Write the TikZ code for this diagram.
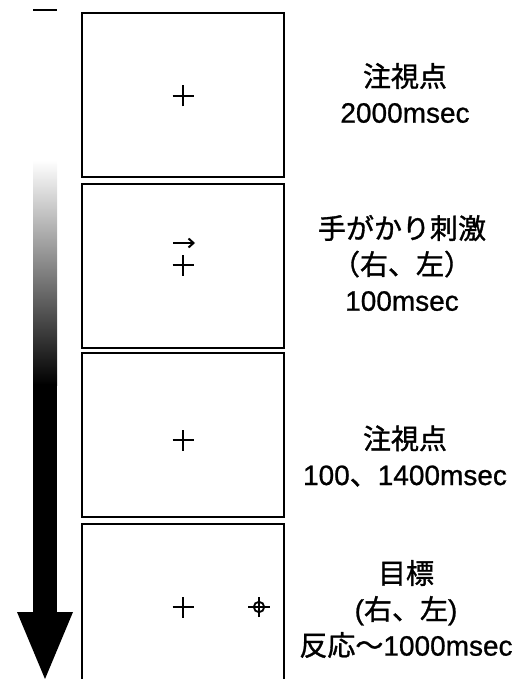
\documentclass[tikz,border=0pt]{standalone}
\usepackage{fontspec}
\setmainfont[FakeBold=0.8]{Liberation Sans}
\newfontfamily\jp[FakeBold=1.2]{Noto Sans CJK JP}
\usetikzlibrary{arrows.meta}
\tikzset{
  screen/.style={draw=black, line width=2pt, minimum width=202pt, minimum height=164pt, inner sep=0pt, outer sep=0pt},
  fixcross/.style={line width=2pt},
  label/.style={align=center, font=\fontsize{28}{36}\selectfont, inner sep=0pt},
}
\begin{document}
\begin{tikzpicture}[x=1pt,y=-1pt]
\useasboundingbox (0,0) rectangle (523,679);
% time arrow
\shade[top color=white, bottom color=black] (33,160) rectangle (57,385);
\fill[black] (33,384) rectangle (57,613);
\fill[black] (17,612) -- (73,612) -- (45,679) -- cycle;
\draw[line width=2pt] (33,10) -- (57,10);
% screens
\node[screen] (s1) at (183,95) {};
\node[screen] (s2) at (183,265.5) {};
\node[screen] (s3) at (183,435) {};
\coordinate (s4a) at (82,690);
\coordinate (s4b) at (82,524);
\coordinate (s4c) at (284,524);
\coordinate (s4d) at (284,690);
\draw[line width=2pt] (s4a) -- (s4b) -- (s4c) -- (s4d);
% fixation crosses
\coordinate (f1) at (183,96);
\coordinate (f2) at (183,265);
\coordinate (f3) at (183,440);
\coordinate (f4) at (183,607);
\foreach \f in {f1,f2,f3,f4}{
  \draw[fixcross] ([xshift=-10.5pt]\f) -- ([xshift=10.5pt]\f);
  \draw[fixcross] ([yshift=-10.5pt]\f) -- ([yshift=10.5pt]\f);
}
% cue arrow
\coordinate (ca) at (173,243);
\coordinate (cb) at (195,243);
\draw[line width=2pt, -{Straight Barb[length=5pt,width=9pt,line width=2pt]}] (ca) -- (cb);
% target
\coordinate (t) at (259,607);
\draw[line width=1.8pt] (t) circle (5.2pt);
\draw[line width=1.8pt] ([xshift=-11pt]t) -- ([xshift=11pt]t);
\draw[line width=1.8pt] ([yshift=-10pt]t) -- ([yshift=10pt]t);
% labels
\node[label] (l1) at (405,93) {{\jp 注視点}\\2000msec};
\node[label] (l2) at (402,263) {{\jp 手がかり刺激}\\{\jp （右、左）}\\100msec};
\node[label] (l3) at (405,456) {{\jp 注視点}\\100{\jp 、}1400msec};
\node[label] (l4) at (406,609) {{\jp 目標}\\({\jp 右、左})\\{\jp 反応～}1000msec};
\end{tikzpicture}
\end{document}
